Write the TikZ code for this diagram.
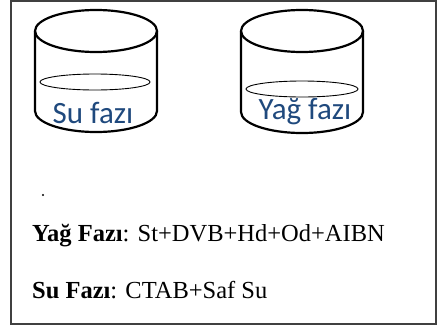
\documentclass[tikz,border=0pt]{standalone}
\usepackage{fontspec}
\setmainfont{Liberation Serif}
\newfontfamily\labelfont{Carlito}
\usetikzlibrary{positioning}
\definecolor{labelblue}{RGB}{31,73,125}
\definecolor{framegray}{RGB}{64,64,64}
\tikzset{wall/.style={draw,line width=2.2pt},surface/.style={draw,line width=0.9pt},phase/.style={font=\labelfont\fontsize{31}{34}\selectfont,text=labelblue,inner sep=0pt},recipe/.style={font=\fontsize{24.5}{27}\selectfont,anchor=base west,inner sep=0pt}}

\begin{document}
\begin{tikzpicture}[x=1pt,y=-1pt]
\useasboundingbox (0,0) rectangle (438,327);
\draw[framegray,line width=2pt] (11,1) rectangle (436,324);
% water beaker
\draw[wall] (96,31) ellipse [x radius=61,y radius=21];
\draw[wall] (35,31) -- (35,111) arc[start angle=180,end angle=0,x radius=61,y radius=21] -- (157,31);
\draw[surface] (95,82) ellipse [x radius=55,y radius=8];
\node[phase] (su) at (93,113) {Su fazı};
% oil beaker
\draw[wall] (302,31) ellipse [x radius=61,y radius=21];
\draw[wall] (241,31) -- (241,112) arc[start angle=180,end angle=0,x radius=61,y radius=21] -- (363,31);
\draw[surface] (302,89) ellipse [x radius=56,y radius=8];
\node[phase] (yag) at (305,112) {Yağ fazı};
% composition of the two phases
\fill (43,195) circle (1.2);
\node[recipe] (oil) at (32,241) {\textbf{Yağ Fazı}: St+DVB+Hd+Od+AIBN};
\node[recipe] (water) at (32,298) {\textbf{Su Fazı}: CTAB+Saf Su};
\end{tikzpicture}
\end{document}
